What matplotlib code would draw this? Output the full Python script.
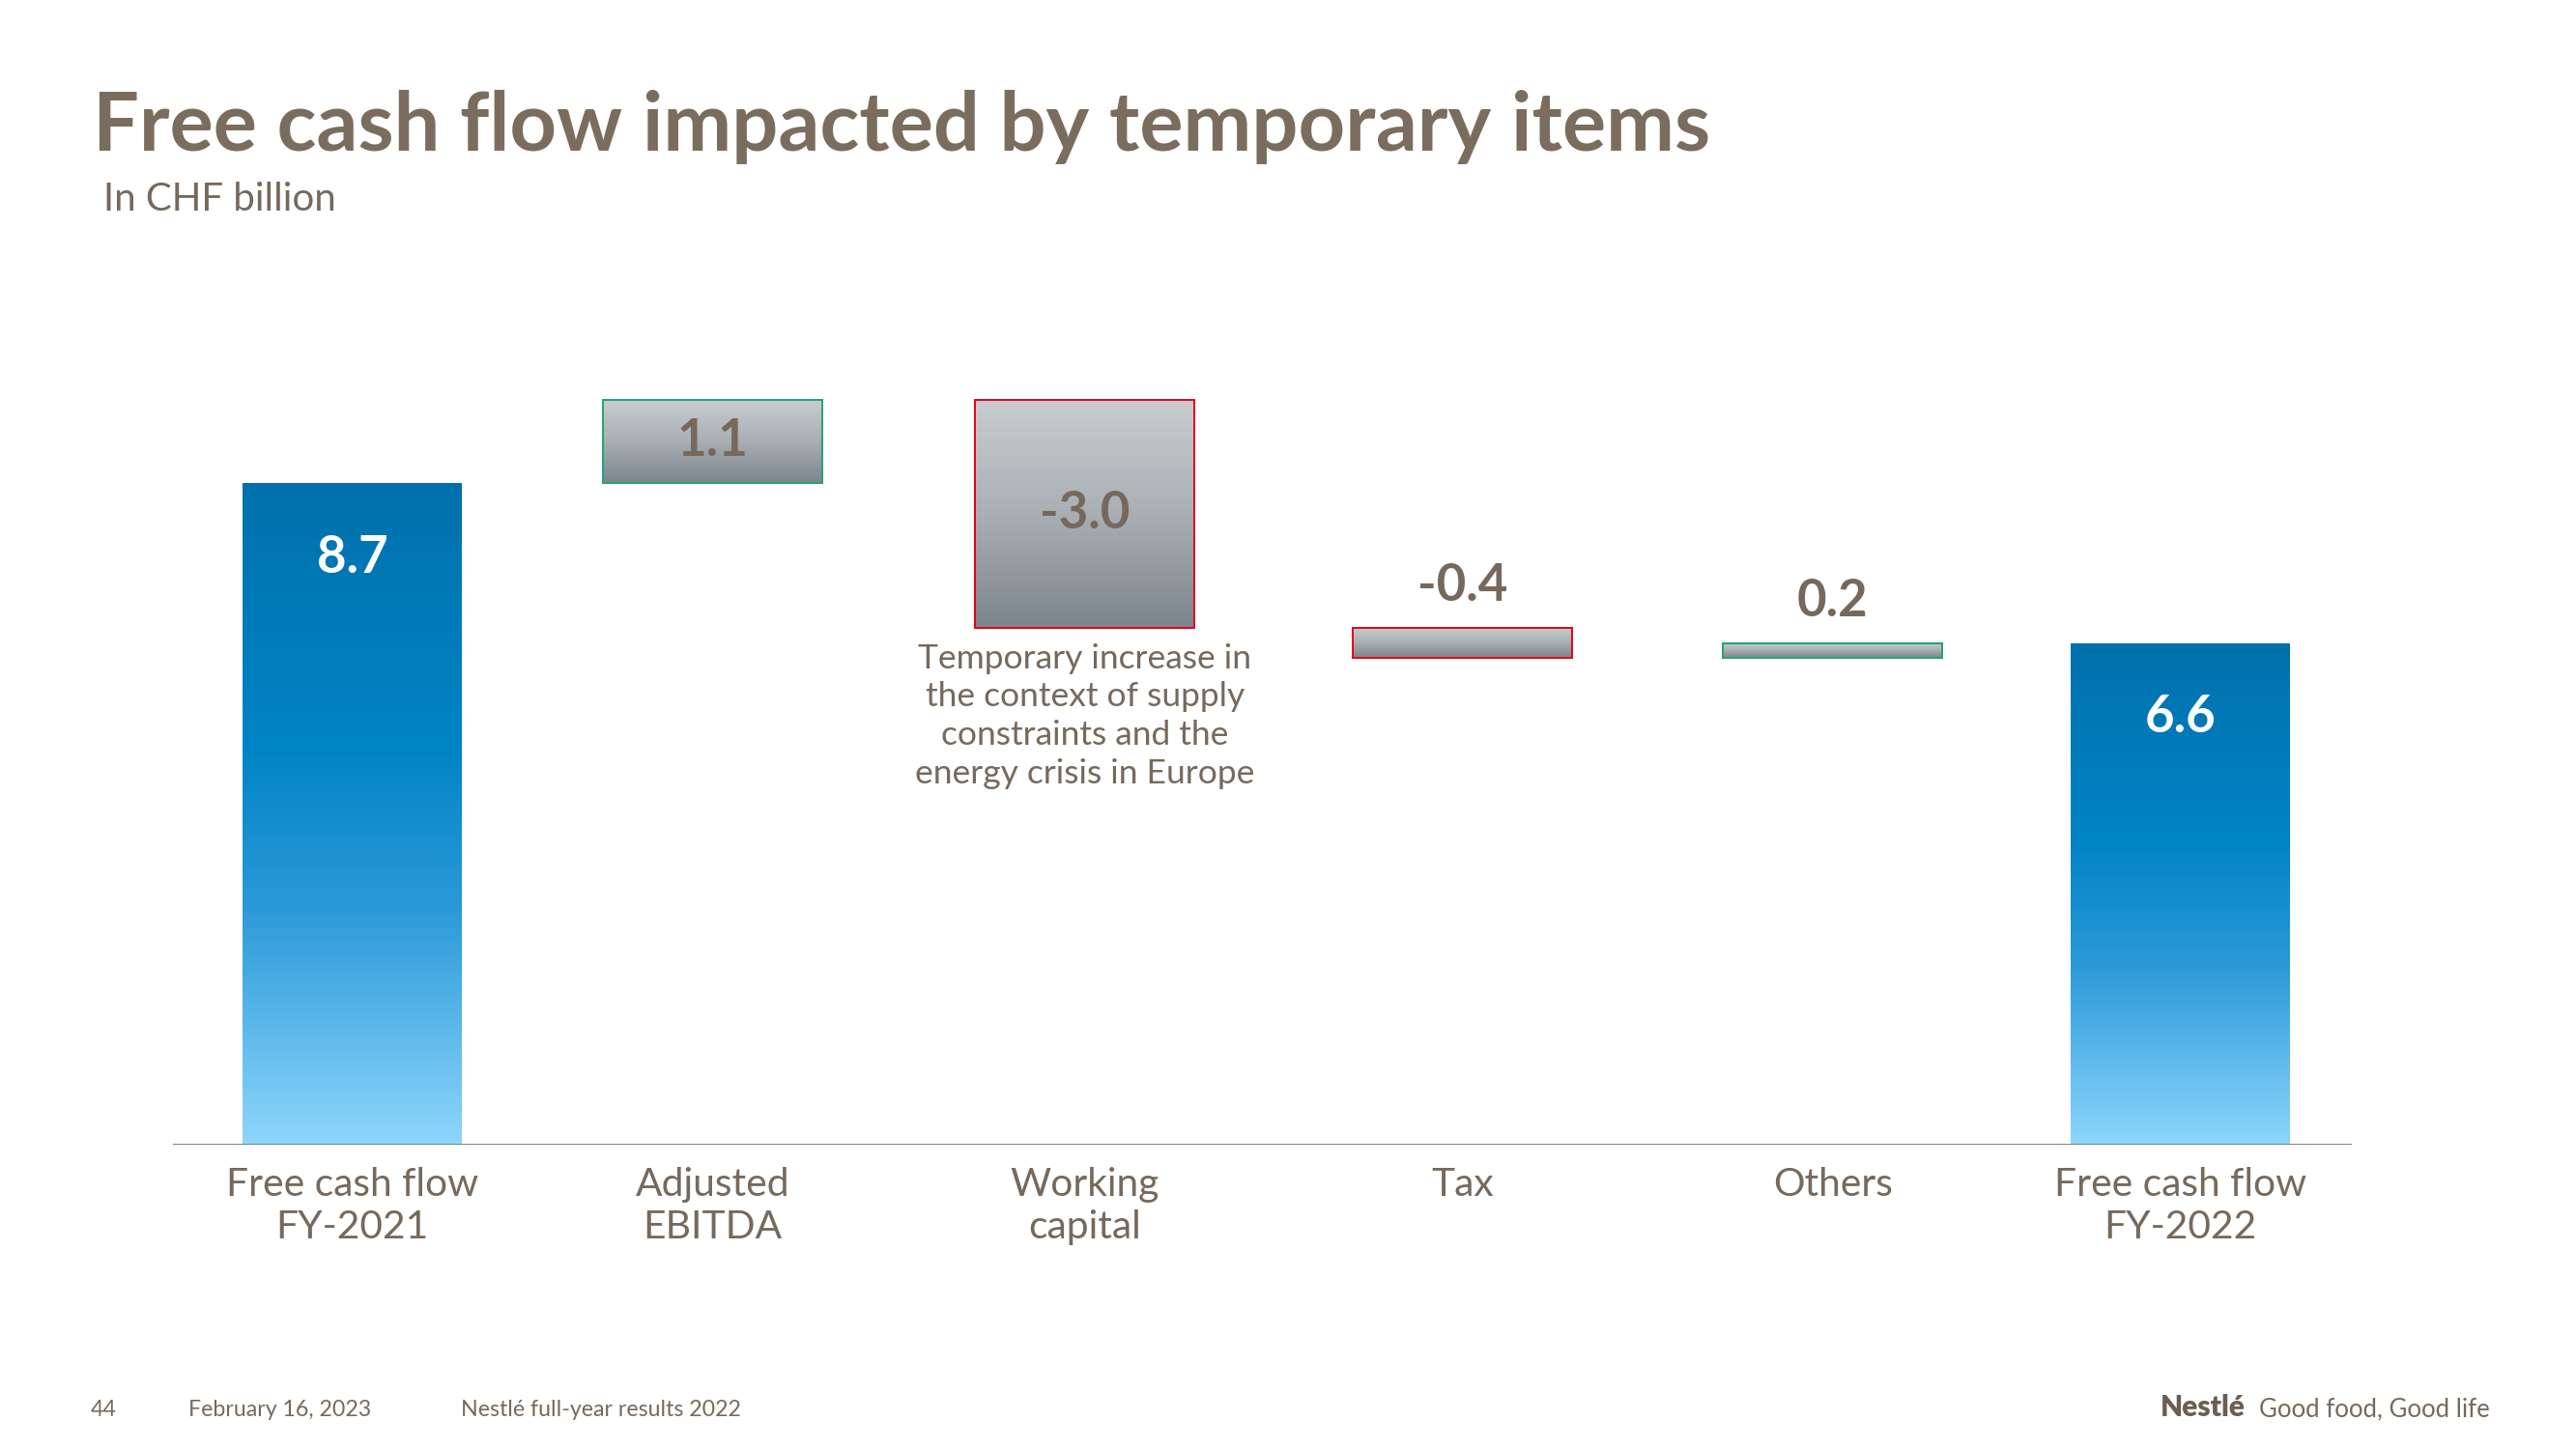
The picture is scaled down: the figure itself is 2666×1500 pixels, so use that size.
import numpy as np
import matplotlib.pyplot as plt
from matplotlib.colors import LinearSegmentedColormap

plt.rcParams['font.family'] = ['Lato', 'DejaVu Sans']

categories = ["Free cash flow\nFY-2021", "Adjusted\nEBITDA", "Working\ncapital",
              "Tax", "Others", "Free cash flow\nFY-2022"]
changes = [8.7, 1.1, -3.0, -0.4, 0.2, 6.6]
is_total = [True, False, False, False, False, True]
value_labels = ["8.7", "1.1", "-3.0", "-0.4", "0.2", "6.6"]
note = "Temporary increase in\nthe context of supply\nconstraints and the\nenergy crisis in Europe"

# slide layout: column centres are not evenly spaced on the original slide
x = np.array([0.0, 0.986, 2.004, 3.037, 4.05, 5.0])
width = 0.6

TEXT = '#76695c'
blue_cmap = LinearSegmentedColormap.from_list(
    'blue', [(0.0, '#8dd6fc'), (0.35, '#2d9ad8'), (0.6, '#0084c6'), (1.0, '#0071ac')])
grey_cmap = LinearSegmentedColormap.from_list('grey', ['#7c858c', '#a9afb3', '#c9cdd0'])

# waterfall geometry
bottoms, heights = [], []
running = 0.0
for v, tot in zip(changes, is_total):
    if tot:
        bottoms.append(0.0)
        heights.append(v)
        running = v
    else:
        bottoms.append(running + min(v, 0))
        heights.append(abs(v))
        running += v

fig = plt.figure(figsize=(26.66, 15), dpi=100)
ax = fig.add_axes([0.067, 0.2098, 0.846, 0.63])

edges = []
for v, tot in zip(changes, is_total):
    if tot:
        edges.append('none')
    elif v > 0:
        edges.append('#23a271')
    else:
        edges.append('#e2001a')

bars = ax.bar(x, heights, bottom=bottoms, width=width, color='none',
              edgecolor=edges, linewidth=1.4, zorder=3)

grad = np.linspace(0, 1, 256).reshape(-1, 1)
for bar, tot in zip(bars, is_total):
    x0, y0 = bar.get_x(), bar.get_y()
    w, h = bar.get_width(), bar.get_height()
    im = ax.imshow(grad, cmap=blue_cmap if tot else grey_cmap, origin='lower',
                   extent=[x0, x0 + w, y0, y0 + h], aspect='auto', zorder=2,
                   interpolation='bicubic')
    im.set_clip_path(bar)

ax.set_xlim(-0.492, 5.47)
ax.set_ylim(0, 12.0)

# value labels
for i, (lbl, tot) in enumerate(zip(value_labels, is_total)):
    top = bottoms[i] + heights[i]
    if tot:
        ax.text(x[i], top - 0.98, lbl, ha='center', va='center', color='white',
                fontsize=38, fontweight='bold', zorder=4)
    elif heights[i] >= 0.5:
        ax.text(x[i], bottoms[i] + heights[i] / 2, lbl, ha='center', va='center',
                color=TEXT, fontsize=38, fontweight='bold', zorder=4)
    else:
        ax.text(x[i], top + 0.55, lbl, ha='center', va='center', color=TEXT,
                fontsize=38, fontweight='bold', zorder=4)

ax.text(x[2], bottoms[2] - 0.2, note, ha='center', va='top', color=TEXT,
        fontsize=25.5, linespacing=1.3)

ax.axhline(0, color='#85807a', linewidth=1.4, zorder=5)
for s in ax.spines.values():
    s.set_visible(False)
ax.set_yticks([])
ax.set_xticks(x, categories)
ax.tick_params(axis='x', length=0, pad=16, labelsize=29.3, labelcolor=TEXT)
for t in ax.get_xticklabels():
    t.set_linespacing(1.25)

fig.text(0.036, 0.896, "Free cash flow impacted by temporary items", color='#7b6d5d',
         fontsize=61, fontweight='bold', va='baseline')
fig.text(0.040, 0.855, "In CHF billion", color=TEXT, fontsize=29, va='baseline')

fig.text(0.035, 0.0227, "44", color=TEXT, fontsize=16.7, va='baseline')
fig.text(0.0733, 0.0227, "February 16, 2023", color=TEXT, fontsize=16.7, va='baseline')
fig.text(0.179, 0.0227, "Nestlé full-year results 2022", color=TEXT, fontsize=16.7,
         va='baseline')
fig.text(0.8386, 0.0227, "Nestlé", color='#6b5d4f', fontsize=21.5, fontweight='heavy',
         va='baseline')
fig.text(0.877, 0.0227, "Good food, Good life", color=TEXT, fontsize=18.5, va='baseline')

fig.savefig("out.png", dpi=100)
